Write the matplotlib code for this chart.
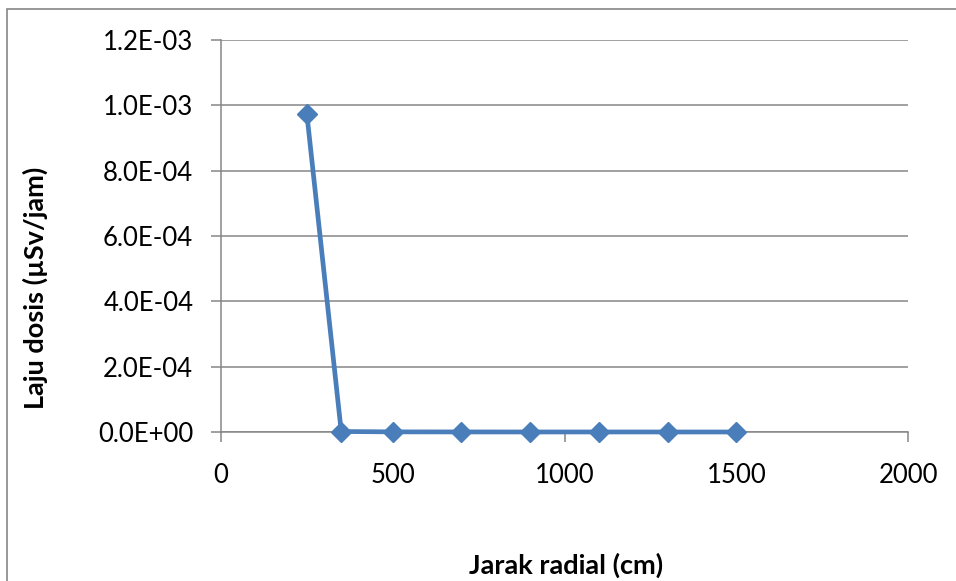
import matplotlib.pyplot as plt
from matplotlib.patches import Rectangle
from matplotlib.ticker import FuncFormatter

# radial distance (cm) and dose rate (uSv/hour)
jarak = [250, 350, 500, 700, 900, 1100, 1300, 1500]
laju_dosis = [9.73e-4, 1.5e-6, 4e-7, 2e-7, 1e-7, 1e-7, 5e-8, 5e-8]

x_ticks = [0, 500, 1000, 1500, 2000]
y_ticks = [0, 2e-4, 4e-4, 6e-4, 8e-4, 1e-3, 1.2e-3]

W, H = 956, 581
fig = plt.figure(figsize=(W / 100, H / 100), dpi=100)
plt.rcParams["font.family"] = ["Lato", "DejaVu Sans"]

grey = "#868686"

# chart area border (only top and left edges visible in the crop)
fig.patches.append(Rectangle((7 / W, -0.1), 1.2, 1 - 9 / H + 0.1,
                             transform=fig.transFigure, fill=False,
                             edgecolor=grey, linewidth=1.2))

ax = fig.add_axes([221 / W, 1 - 432 / H, (908 - 221) / W, (432 - 40) / H])
ax.plot(jarak, laju_dosis, color="#4A7EBB", linewidth=3.4, marker="D",
        markersize=10, zorder=3, clip_on=False)

ax.set_xlim(0, 2000)
ax.set_ylim(0, 1.2e-3)
ax.set_xticks(x_ticks)
ax.set_yticks(y_ticks)
ax.yaxis.set_major_formatter(FuncFormatter(
    lambda v, p: "%.1fE%+03d" % (v / 10 ** (-3 if v >= 1e-3 else -4), -3 if v >= 1e-3 else -4)
    if v != 0 else "0.0E+00"))

ax.grid(axis="y", color=grey, linewidth=1.1)
ax.set_axisbelow(True)
for side in ("top", "right"):
    ax.spines[side].set_visible(False)
for side in ("left", "bottom"):
    ax.spines[side].set_color(grey)
    ax.spines[side].set_linewidth(1.1)
ax.tick_params(axis="both", direction="out", length=7, width=1.1, color=grey,
               labelsize=18.5, labelcolor="black")
ax.tick_params(axis="x", pad=15)
ax.tick_params(axis="y", pad=13)

fig.text(566 / W, 1 - 565 / H, "Jarak radial (cm)", ha="center", va="center",
         fontsize=19.5, fontweight="bold")
fig.text(35 / W, 1 - 288 / H, "Laju dosis (µSv/jam)", ha="center", va="center",
         rotation=90, fontsize=19.5, fontweight="bold")

fig.savefig("out.png", dpi=100)
